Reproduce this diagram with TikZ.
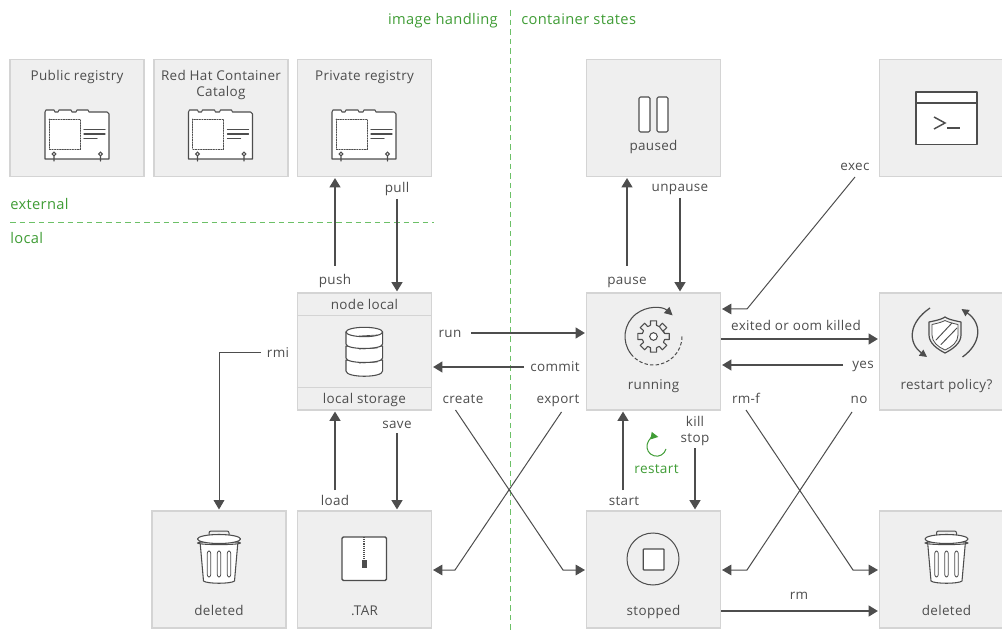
\documentclass[tikz,border=0pt]{standalone}
\usepackage{fontspec}
\setmainfont[LetterSpace=2.5]{Open Sans}
\usetikzlibrary{arrows.meta,calc}
\definecolor{ink}{HTML}{4D4D4D}
\definecolor{boxfill}{HTML}{EFEFEF}
\definecolor{boxline}{HTML}{D4D4D4}
\definecolor{grn}{HTML}{3F9C35}
\definecolor{grnline}{HTML}{6CC067}
\tikzset{
  box/.style={draw=boxline,fill=boxfill,line width=1.1pt,minimum width=100.5pt,minimum height=87.7pt,inner sep=0pt},
  lbl/.style={text=ink,font=\fontsize{10.1pt}{12.7pt}\selectfont,inner sep=0pt,align=center},
  glbl/.style={text=grn,font=\fontsize{11pt}{13pt}\selectfont,inner sep=0pt},
  arr/.style={draw=ink,line width=1.6pt,-{Triangle[length=7pt,width=8pt]},shorten >=0.6pt},
  thinarr/.style={draw=ink,line width=0.75pt,-{Triangle[length=7pt,width=8pt]},shorten >=0.6pt},
  sep/.style={draw=grnline,line width=0.7pt,dash pattern=on 4.2pt off 3pt},
  ico/.style={draw=ink,line width=0.8pt,fill=white,line join=round},
  icoline/.style={draw=ink,line width=0.75pt,line cap=round},
  pics/registry/.style={code={
    \draw[ico] (0,0) -- (0,-1) -- (1,-3) -- (9,-3) -- (10,-1) -- (13,-1) -- (14,-3) -- (26,-3) -- (27,-1) -- (31,-1) -- (32,-3) -- (43,-3) -- (44,-1) -- (62,-1) -- (64,1) -- (64,46) -- (0,46) -- cycle;
    \draw[icoline,line width=0.6pt,dash pattern=on 1pt off 0.9pt] (4,6) rectangle (35,36);
    \draw[icoline,line width=0.8pt] (39,16.5) -- (60,16.5) (39,21) -- (60,21);
    \draw[icoline,line width=0.8pt] (39,25.5) -- (52,25.5);
    \draw[icoline,line width=0.8pt] (9,41) circle (1.8) (9,43) -- (9,48);
    \draw[icoline,line width=0.8pt] (55.5,41) circle (1.8) (55.5,43) -- (55.5,48);
  }},
  pics/trash/.style={code={
    \draw[icoline,fill=boxfill,rounded corners=1.5pt] (-10,0) -- (-10,-6) -- (10,-6) -- (10,0);
    \draw[ico,fill=white] (-19,4) -- (-15.5,44) .. controls (-12,47) and (12,47) .. (15.5,44) -- (19,4) -- cycle;
    \foreach \u in {-10,0,10}{\draw[ico,fill=white,line width=0.6pt,rounded corners=1.6pt] ({\u-1.7},14) rectangle ({\u+1.7},40);}
    \draw[ico] (0,6) ellipse (21.5 and 1.6);
    \draw[ico] (0,2) ellipse (21.5 and 4.5);
  }}
}
\begin{document}
\begin{tikzpicture}[x=0.75pt,y=-0.75pt]
\useasboundingbox (0,0) rectangle (1002,630);
\clip (0,0) rectangle (1002,630);
% boxes
\node[box] (pub) at (77,118) {};
\node[box] (rh) at (221,118) {};
\node[box] (priv) at (364.5,118) {};
\node[box] (paused) at (653.5,118) {};
\node[box] (term) at (946.5,118) {};
\node[box] (nodel) at (364.5,351.5) {};
\node[box] (run) at (653.5,351.5) {};
\node[box] (pol) at (946.5,351.5) {};
\node[box] (del1) at (219,569.5) {};
\node[box] (tar) at (364.5,569.5) {};
\node[box] (stopd) at (653.5,569.5) {};
\node[box] (del2) at (946.5,569.5) {};
\draw[boxline,line width=1.1pt] (nodel.west |- 0,315.5) -- (nodel.east |- 0,315.5) (nodel.west |- 0,387.5) -- (nodel.east |- 0,387.5);
% separators
\coordinate (vt) at (510,10); \coordinate (vb) at (510,630);
\coordinate (hl) at (10,222); \coordinate (hr) at (434,222);
\draw[sep] (vt) -- (vb);
\draw[sep] (hl) -- (hr);
% green labels
\node[glbl,anchor=base east] (gimg) at (498,25) {image handling};
\node[glbl,anchor=base west] (gcon) at (521,25) {container states};
\node[glbl,anchor=base west] (gext) at (10,210) {external};
\node[glbl,anchor=base west] (gloc) at (10,244) {local};
\node[glbl,font=\fontsize{10.2pt}{12pt}\selectfont,anchor=base] (grest) at (656.5,473.5) {restart};
% box labels
\tikzset{every node/.append style={anchor=base}}
\node[lbl] (t1) at (77,80.5) {Public registry};
\node[lbl,anchor=center] (t2) at (221,85) {Red Hat Container\\Catalog};
\node[lbl] (t3) at (364.5,80.5) {Private registry};
\node[lbl] (t4) at (653.5,151) {paused};
\node[lbl] (t5) at (364.5,309.5) {node local};
\node[lbl] (t6) at (364.5,404) {local storage};
\node[lbl] (t7) at (653.5,390) {running};
\node[lbl] (t8) at (946.5,390) {restart policy?};
\node[lbl] (t9) at (219,615) {deleted};
\node[lbl] (t10) at (364.5,615) {.TAR};
\node[lbl] (t11) at (653.5,615) {stopped};
\node[lbl] (t12) at (946.5,615) {deleted};
% connector labels
\node[lbl] (lpush) at (335,285) {push};
\node[lbl] (lpull) at (397,192.5) {pull};
\node[lbl] (lrmi) at (278,357.5) {rmi};
\node[lbl] (lrun) at (450,338) {run};
\node[lbl] (lcommit) at (555,372) {commit};
\node[lbl] (lcreate) at (463,403) {create};
\node[lbl] (lexport) at (558,403) {export};
\node[lbl] (lload) at (335,505) {load};
\node[lbl] (lsave) at (397,428) {save};
\node[lbl] (lstart) at (624,505) {start};
\node[lbl,anchor=center] (lkill) at (695,431) {kill\\stop};
\node[lbl] (lpause) at (627,285) {pause};
\node[lbl] (lunpause) at (680,192) {unpause};
\node[lbl] (lexec) at (855,171) {exec};
\node[lbl] (lexit) at (796,331) {exited or oom killed};
\node[lbl] (lyes) at (863,369) {yes};
\node[lbl] (lrmf) at (746,403) {rm-f};
\node[lbl] (lno) at (859,403) {no};
\node[lbl] (lrm) at (799,599) {rm};
% connector free ends
\coordinate (cpush) at (335,266);
\coordinate (cpull) at (397,199);
\coordinate (crmi) at (261,353);
\coordinate (crun) at (471,333);
\coordinate (ccommit) at (524,367);
\coordinate (ccreate) at (455.5,410);
\coordinate (cexport) at (561.5,412);
\coordinate (cload) at (335,490);
\coordinate (csave) at (397,433);
\coordinate (cstart) at (623,490);
\coordinate (ckill) at (695,448);
\coordinate (cpause) at (627,266);
\coordinate (cunpause) at (680,198);
\coordinate (cexec) at (855,177);
\coordinate (cyes) at (843,365);
\coordinate (crmf) at (746,410);
\coordinate (cno) at (852,412);
% connectors
\draw[arr] (cpush) -- (cpush |- priv.south);
\draw[arr] (cpull) -- (cpull |- nodel.north);
\draw[thinarr] (crmi) -- (del1.north |- crmi) -- (del1.north);
\draw[arr] (crun) -- (run.west |- crun);
\draw[arr] (ccommit) -- (nodel.east |- ccommit);
\draw[thinarr] (ccreate) -- (563,570) -- (stopd.west |- 0,570);
\draw[thinarr] (cexport) -- (455,570) -- (tar.east |- 0,570);
\draw[arr] (cload) -- (cload |- nodel.south);
\draw[arr] (csave) -- (csave |- tar.north);
\draw[arr] (cstart) -- (cstart |- run.south);
\draw[arr] (ckill) -- (ckill |- stopd.north);
\draw[arr] (cpause) -- (cpause |- paused.south);
\draw[arr] (cunpause) -- (cunpause |- run.north);
\draw[thinarr] (cexec) -- (747,309) -- (run.east |- 0,309);
\draw[arr] (run.east |- 0,339) -- (pol.west |- 0,339);
\draw[arr] (cyes) -- (run.east |- cyes);
\draw[thinarr] (crmf) -- (853,570) -- (del2.west |- 0,570);
\draw[thinarr] (cno) -- (747,570) -- (stopd.east |- 0,570);
\draw[arr] (stopd.east |- 0,611) -- (del2.west |- 0,611);
% registry icons
\pic at (45,113) {registry};
\pic at (188.5,113) {registry};
\pic at (332,113) {registry};
% pause icon
\draw[ico,rounded corners=1pt] (639,97) rectangle (650,132);
\draw[ico,rounded corners=1pt] (657,97) rectangle (668,132);
% terminal icon
\draw[ico,line width=1.3pt] (916,92) rectangle (977,144.5);
\draw[icoline,line width=1.1pt] (916,103) -- (977,103);
\draw[icoline,line width=1.1pt,line cap=butt] (934,117) -- (945,123) -- (934,129);
\draw[icoline,line width=1.1pt,line cap=butt] (947,128) -- (960,128);
% database icon
\begin{scope}[shift={(364.3,0)}]
\draw[ico] (-18.3,360) -- (-18.3,371) .. controls (-18.3,378) and (18.3,378) .. (18.3,371) -- (18.3,360) -- cycle;
\draw[ico] (-18.3,346) -- (-18.3,358) .. controls (-18.3,364) and (18.3,364) .. (18.3,358) -- (18.3,346) -- cycle;
\draw[ico] (-18.3,332) -- (-18.3,344) .. controls (-18.3,350) and (18.3,350) .. (18.3,344) -- (18.3,332) -- cycle;
\draw[ico] (0,332) ellipse (18.3 and 4.7);
\draw[icoline,line width=0.5pt] (-5,336) -- (13,335) (-5,349) -- (13,348) (-5,363) -- (13,362);
\end{scope}
% gear icon
\begin{scope}[shift={(653.5,336.5)}]
\draw[ico,fill=boxfill] \foreach \g in {0,45,...,315}{
  ({\g-15}:11.5) -- ({\g-11}:16) -- ({\g+11}:16) -- ({\g+15}:11.5) -- ({\g+30}:11.5) } -- cycle;
\draw[ico] (0,0) circle (3.8);
\draw[draw=ink,line width=0.8pt,-{Triangle[length=6pt,width=6pt]}] (218:28.5 and -28.5) arc (-218:-48:28.5);
\end{scope}
\draw[draw=ink,line width=0.75pt,dash pattern=on 2.6pt off 1.6pt] (682,336.5) arc (0:142:28.5);
% shield icon
\begin{scope}[shift={(945,0)}]
\draw[ico,fill=boxfill,line width=0.9pt] (-16,322) .. controls (-6,320) and (-3,319) .. (0,317) .. controls (3,319) and (6,320) .. (16,322) -- (16,335) .. controls (16,343) and (8,349) .. (0,353) .. controls (-8,349) and (-16,343) .. (-16,335) -- cycle;
\draw[ico,fill=white,line width=0.6pt] (-13,324.5) .. controls (-6,323) and (-3,322) .. (0,320.5) .. controls (3,322) and (6,323) .. (13,324.5) -- (13,335) .. controls (13,342) and (7,347) .. (0,350) .. controls (-7,347) and (-13,342) .. (-13,335) -- cycle;
\draw[icoline,line width=0.7pt] (-9,340) -- (7,323) (-4,344.5) -- (12,328);
\draw[draw=ink,line width=0.95pt,-{Triangle[length=5.5pt,width=5.5pt]}] (-15,308) .. controls (-37,323) and (-37,343) .. (-18,357);
\draw[draw=ink,line width=0.95pt,-{Triangle[length=5.5pt,width=5.5pt]}] (17.5,357) .. controls (37,343) and (37,323) .. (16.5,309);
\end{scope}
% trash icons
\pic at (219,537) {trash};
\pic at (946.5,537) {trash};
% tar icon
\draw[ico,line width=1pt,rounded corners=1pt] (342,537) rectangle (386.5,580.5);
\draw[icoline,line width=1.1pt,line cap=butt,dash pattern=on 0.9pt off 0.7pt] (364,537) -- (364,559);
\draw[draw=ink,fill=ink,line width=0.5pt] (362,560) rectangle (366,567.5);
% stopped icon
\draw[draw=ink,line width=0.75pt] (653,559) circle (26);
\draw[ico,line width=1pt,rounded corners=0.5pt] (643.3,549) rectangle (664,570);
% restart icon
\draw[draw=grn,line width=0.75pt,-{Triangle[length=5.5pt,width=5.5pt]}] (666,449) arc (15:280:9.7);
\end{tikzpicture}
\end{document}
